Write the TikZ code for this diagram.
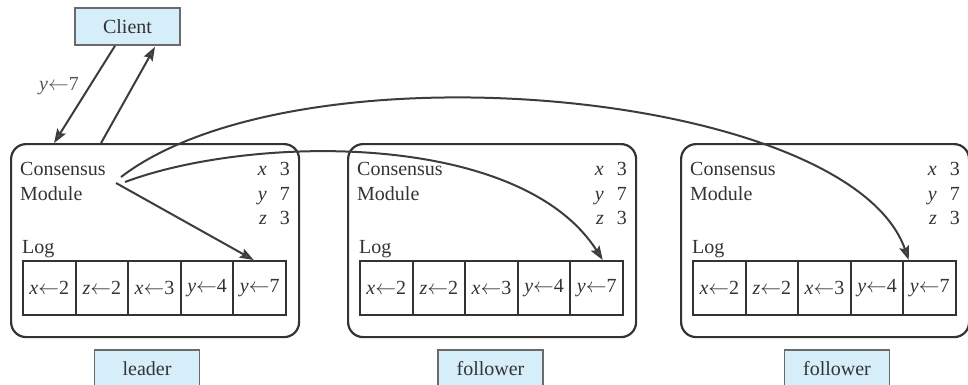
\documentclass[tikz,border=0pt]{standalone}
\usepackage{fontspec}
\newfontfamily\tnr{Liberation Serif}
\usetikzlibrary{arrows.meta}
\definecolor{ink}{HTML}{333333}
\definecolor{wire}{HTML}{3C3C3C}
\definecolor{tipc}{HTML}{555555}
\definecolor{lblue}{HTML}{D6EEFA}
\definecolor{lborder}{HTML}{6A6A6A}
\begin{document}
\begin{tikzpicture}[x=1pt,y=-1pt,
  every node/.style={font=\tnr\fontsize{20}{24}\selectfont, text=ink, inner sep=0pt},
  srvbox/.style={draw=ink, line width=2.2pt, rounded corners=15pt, anchor=north west},
  cellbox/.style={draw=ink, line width=2pt, minimum width=52.6pt, minimum height=54pt, anchor=north west},
  lblbox/.style={draw=lborder, fill=lblue, line width=1.6pt, minimum width=105pt, minimum height=38pt},
  conn/.style={draw=wire, line width=2pt, -{Stealth[length=14pt,width=10pt,inset=2.5pt,fill=tipc]}}
]
\useasboundingbox (0,0) rectangle (968,384);

% client
\node[lblbox, minimum height=37pt] (client) at (127.5,26.5) {Client};

% servers
\foreach \n/\ox in {L/10, A/347, B/680}{
  \node[srvbox, minimum width=288pt, minimum height=193pt] (\n) at (\ox,143) {};
  \node[anchor=base west] (\n-cons) at (\ox+10,175) {Consensus};
  \node[anchor=base west] (\n-mod) at (\ox+10,200) {Module};
  \node[anchor=base east] (\n-x) at (\ox+280,175) {\textit{x}\hspace{13pt}3};
  \node[anchor=base east] (\n-y) at (\ox+280,200) {\textit{y}\hspace{13pt}7};
  \node[anchor=base east] (\n-z) at (\ox+280,224) {\textit{z}\hspace{13pt}3};
  \node[anchor=base west] (\n-log) at (\ox+12,253) {Log};
  \node[cellbox] (\n-c0) at (\ox+12,260) {\textit{x}$\leftarrow$2};
  \node[cellbox] (\n-c1) at (\ox+12+52.6,260) {\textit{z}$\leftarrow$2};
  \node[cellbox] (\n-c2) at (\ox+12+105.2,260) {\textit{x}$\leftarrow$3};
  \node[cellbox] (\n-c3) at (\ox+12+157.8,260) {\textit{y}$\leftarrow$4};
  \node[cellbox] (\n-c4) at (\ox+12+210.4,260) {\textit{y}$\leftarrow$7};
}

% role labels
\node[lblbox, anchor=north] (L-role) at (147,349) {leader};
\node[lblbox, anchor=north] (A-role) at (490.5,349) {follower};
\node[lblbox, anchor=north] (B-role) at (837,349) {follower};

% client arrows
\draw[conn] ([xshift=-12.5pt]client.south) -- ([xshift=-101pt]L.north);
\draw[conn] ([xshift=-54pt]L.north) -- ([xshift=27.5pt,yshift=-1pt]client.south);
\node[text=tipc] (req) at (59,86) {\textit{y}$\leftarrow$7};

% replication arrows
\coordinate (src) at (121,179);
\draw[conn] ([shift={(0,-2)}]src) .. controls (300,40) and (850,90) .. ([xshift=-21pt]B-c4.north);
\draw[conn] ([shift={(4,3)}]src) .. controls (250,135) and (520,130) .. ([xshift=6pt]A-c4.north);
\draw[conn] ([shift={(-5,4)}]src) -- ([xshift=-6pt]L-c4.north);
\end{tikzpicture}
\end{document}
